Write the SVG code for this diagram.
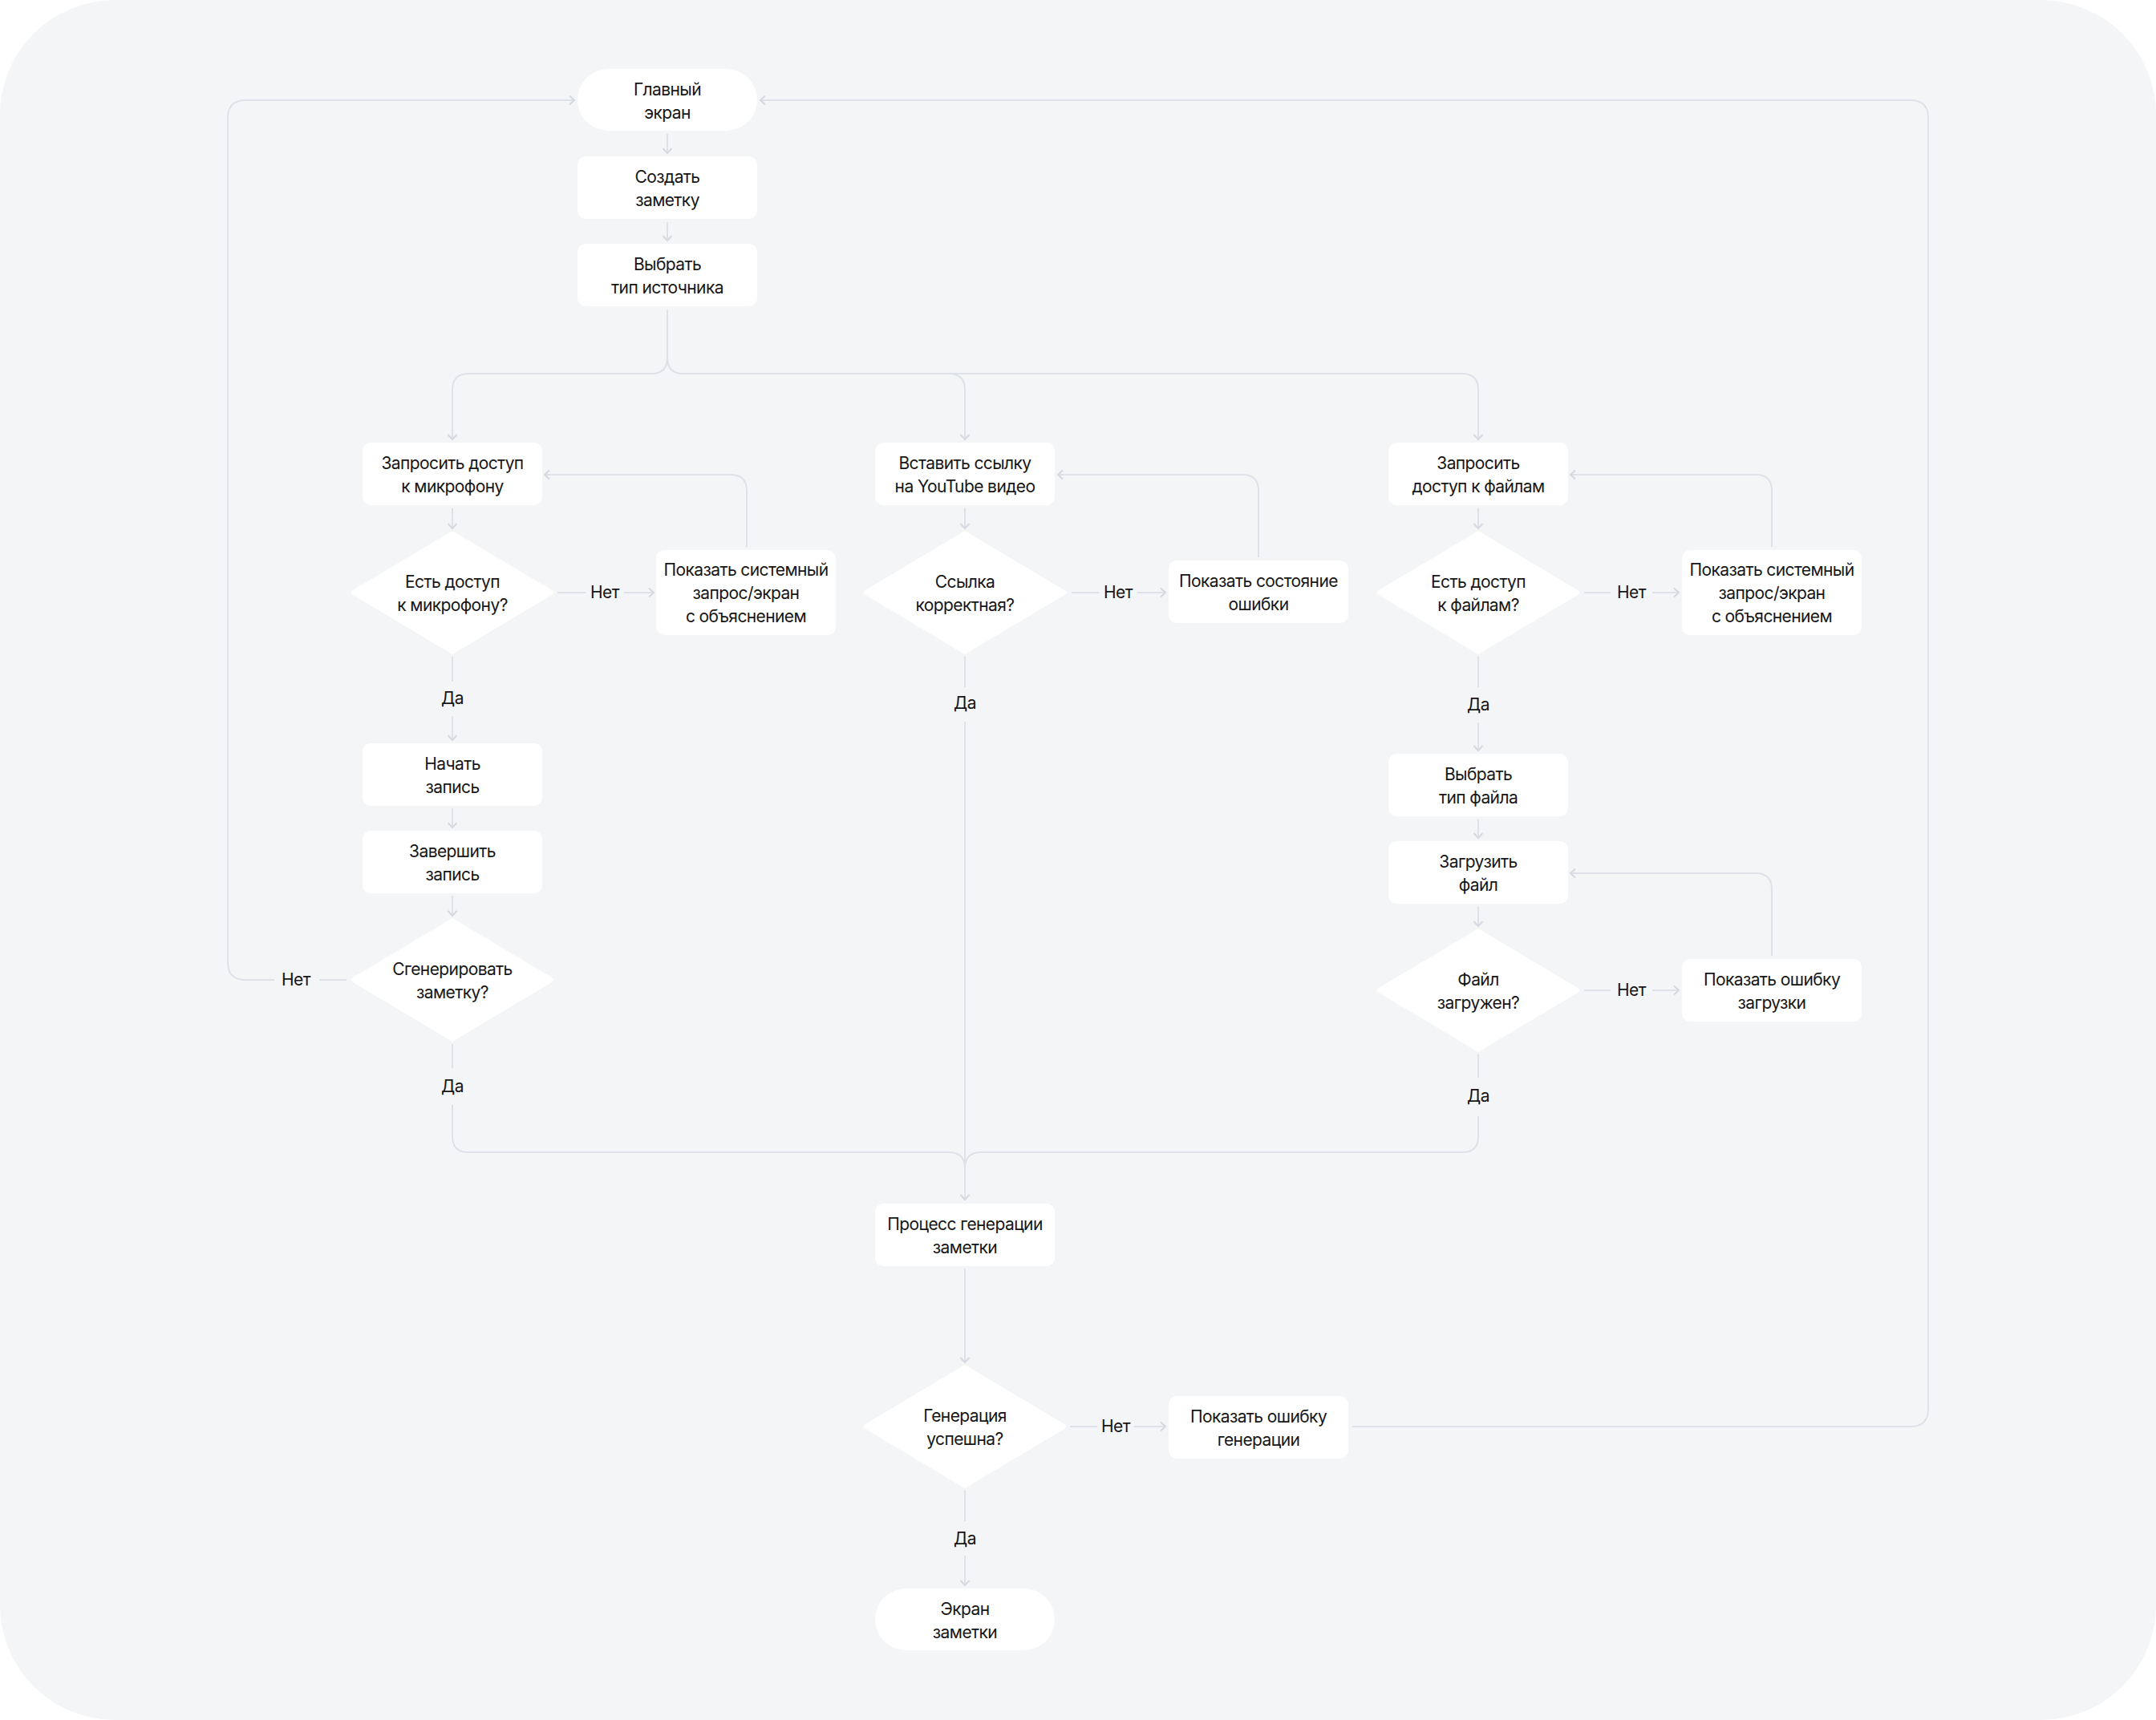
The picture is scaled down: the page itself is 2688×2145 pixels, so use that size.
<svg xmlns="http://www.w3.org/2000/svg" width="2688" height="2145" viewBox="0 0 2688 2145">
<style>
.bg{fill:#f4f5f7}
.box{fill:#ffffff}
.dia{fill:#ffffff;stroke:#ffffff;stroke-width:5;stroke-linejoin:round}
.t{font-family:Inter,"Noto Sans","Liberation Sans",sans-serif;font-size:21px;fill:#161616;text-anchor:middle;letter-spacing:-0.6px}
.c{fill:none;stroke:#dfe1e8;stroke-width:2}
</style>
<defs>
<marker id="ah" markerUnits="userSpaceOnUse" markerWidth="14" markerHeight="14" viewBox="0 0 14 14" refX="11" refY="7" orient="auto">
<path d="M5,1.5 L11,7 L5,12.5" fill="none" stroke="#d6d8e0" stroke-width="2"/>
</marker>
</defs>
<rect x="0" y="0" width="2688" height="2145" fill="#ffffff"/>
<rect class="bg" x="0" y="0" width="2688" height="2145" rx="143"/>

<g id="connectors">
<path class="c" d="M832,167 V191" marker-end="url(#ah)"/>
<path class="c" d="M832,277 V300" marker-end="url(#ah)"/>
<path class="c" d="M832,386 V446 Q832,466 812,466 H584 Q564,466 564,486 V548" marker-end="url(#ah)"/>
<path class="c" d="M832,446 Q832,466 852,466 H1823 Q1843,466 1843,486 V548" marker-end="url(#ah)"/>
<path class="c" d="M1183,466 Q1203,466 1203,486 V548" marker-end="url(#ah)"/>

<path class="c" d="M564,634 V659" marker-end="url(#ah)"/>
<path class="c" d="M695,739 H731"/>
<path class="c" d="M778,739 H815" marker-end="url(#ah)"/>
<path class="c" d="M931,682 V612 Q931,592 911,592 H679" marker-end="url(#ah)"/>
<path class="c" d="M564,819 V850"/>
<path class="c" d="M564,893 V923" marker-end="url(#ah)"/>
<path class="c" d="M564,1008 V1032" marker-end="url(#ah)"/>
<path class="c" d="M564,1117 V1142" marker-end="url(#ah)"/>
<path class="c" d="M432,1222 H398"/>
<path class="c" d="M342,1222 H306 Q284,1222 284,1200 V147 Q284,125 306,125 H716" marker-end="url(#ah)"/>
<path class="c" d="M564,1302 V1332"/>
<path class="c" d="M564,1378 V1417 Q564,1437 584,1437 H1183 Q1203,1437 1203,1457"/>

<path class="c" d="M1203,634 V659" marker-end="url(#ah)"/>
<path class="c" d="M1336,739 H1370"/>
<path class="c" d="M1418,739 H1453" marker-end="url(#ah)"/>
<path class="c" d="M1569,695 V612 Q1569,592 1549,592 H1319" marker-end="url(#ah)"/>
<path class="c" d="M1203,819 V857"/>
<path class="c" d="M1203,900 V1496" marker-end="url(#ah)"/>
<path class="c" d="M1203,1582 V1699" marker-end="url(#ah)"/>
<path class="c" d="M1334,1779 H1368"/>
<path class="c" d="M1414,1779 H1453" marker-end="url(#ah)"/>
<path class="c" d="M1686,1779 H2382 Q2404,1779 2404,1757 V147 Q2404,125 2382,125 H948" marker-end="url(#ah)"/>
<path class="c" d="M1203,1859 V1897"/>
<path class="c" d="M1203,1940 V1977" marker-end="url(#ah)"/>

<path class="c" d="M1843,634 V659" marker-end="url(#ah)"/>
<path class="c" d="M1975,739 H2008"/>
<path class="c" d="M2060,739 H2093" marker-end="url(#ah)"/>
<path class="c" d="M2209,682 V612 Q2209,592 2189,592 H1958" marker-end="url(#ah)"/>
<path class="c" d="M1843,819 V857"/>
<path class="c" d="M1843,901 V936" marker-end="url(#ah)"/>
<path class="c" d="M1843,1022 V1045" marker-end="url(#ah)"/>
<path class="c" d="M1843,1131 V1155" marker-end="url(#ah)"/>
<path class="c" d="M1975,1235 H2008"/>
<path class="c" d="M2060,1235 H2093" marker-end="url(#ah)"/>
<path class="c" d="M2209,1192 V1109 Q2209,1089 2189,1089 H1958" marker-end="url(#ah)"/>
<path class="c" d="M1843,1315 V1344"/>
<path class="c" d="M1843,1392 V1417 Q1843,1437 1823,1437 H1223 Q1203,1437 1203,1457"/>

<text class="t" x="754" y="746">Нет</text>
<text class="t" x="1394" y="746">Нет</text>
<text class="t" x="2034" y="746">Нет</text>
<text class="t" x="369" y="1229">Нет</text>
<text class="t" x="1391" y="1786">Нет</text>
<text class="t" x="2034" y="1242">Нет</text>
<text class="t" x="564" y="878">Да</text>
<text class="t" x="1203" y="884">Да</text>
<text class="t" x="1843" y="886">Да</text>
<text class="t" x="564" y="1362">Да</text>
<text class="t" x="1843" y="1374">Да</text>
<text class="t" x="1203" y="1926">Да</text>
</g>

<g id="main_screen"><rect class="box" x="720" y="86" width="224" height="77" rx="38.5"/><text class="t" x="832" y="119">Главный</text><text class="t" x="832" y="148">экран</text></g>
<g id="create_note"><rect class="box" x="720" y="195" width="224" height="78" rx="10"/><text class="t" x="832" y="228">Создать</text><text class="t" x="832" y="257">заметку</text></g>
<g id="choose_source"><rect class="box" x="720" y="304" width="224" height="78" rx="10"/><text class="t" x="832" y="337">Выбрать</text><text class="t" x="832" y="366">тип источника</text></g>

<g id="req_mic"><rect class="box" x="452" y="552" width="224" height="78" rx="10"/><text class="t" x="564" y="585">Запросить доступ</text><text class="t" x="564" y="614">к микрофону</text></g>
<g id="has_mic"><polygon class="dia" points="564,665 688,739 564,813 440,739"/><text class="t" x="564" y="733">Есть доступ</text><text class="t" x="564" y="762">к микрофону?</text></g>
<g id="show_sys_mic"><rect class="box" x="818" y="686" width="224" height="106" rx="10"/><text class="t" x="930" y="718">Показать системный</text><text class="t" x="930" y="747">запрос/экран</text><text class="t" x="930" y="776">с объяснением</text></g>
<g id="start_rec"><rect class="box" x="452" y="927" width="224" height="78" rx="10"/><text class="t" x="564" y="960">Начать</text><text class="t" x="564" y="989">запись</text></g>
<g id="stop_rec"><rect class="box" x="452" y="1036" width="224" height="78" rx="10"/><text class="t" x="564" y="1069">Завершить</text><text class="t" x="564" y="1098">запись</text></g>
<g id="gen_q"><polygon class="dia" points="564,1148 688,1222 564,1296 440,1222"/><text class="t" x="564" y="1216">Сгенерировать</text><text class="t" x="564" y="1245">заметку?</text></g>

<g id="paste_link"><rect class="box" x="1091" y="552" width="224" height="78" rx="10"/><text class="t" x="1203" y="585">Вставить ссылку</text><text class="t" x="1203" y="614">на YouTube видео</text></g>
<g id="link_ok"><polygon class="dia" points="1203,665 1327,739 1203,813 1079,739"/><text class="t" x="1203" y="733">Ссылка</text><text class="t" x="1203" y="762">корректная?</text></g>
<g id="show_err"><rect class="box" x="1457" y="699" width="224" height="78" rx="10"/><text class="t" x="1569" y="732">Показать состояние</text><text class="t" x="1569" y="761">ошибки</text></g>
<g id="process"><rect class="box" x="1091" y="1501" width="224" height="78" rx="10"/><text class="t" x="1203" y="1534">Процесс генерации</text><text class="t" x="1203" y="1563">заметки</text></g>
<g id="gen_ok"><polygon class="dia" points="1203,1705 1327,1779 1203,1853 1079,1779"/><text class="t" x="1203" y="1773">Генерация</text><text class="t" x="1203" y="1802">успешна?</text></g>
<g id="show_gen_err"><rect class="box" x="1457" y="1741" width="224" height="78" rx="10"/><text class="t" x="1569" y="1774">Показать ошибку</text><text class="t" x="1569" y="1803">генерации</text></g>
<g id="note_screen"><rect class="box" x="1091" y="1981" width="224" height="77" rx="38.5"/><text class="t" x="1203" y="2014">Экран</text><text class="t" x="1203" y="2043">заметки</text></g>

<g id="req_files"><rect class="box" x="1731" y="552" width="224" height="78" rx="10"/><text class="t" x="1843" y="585">Запросить</text><text class="t" x="1843" y="614">доступ к файлам</text></g>
<g id="has_files"><polygon class="dia" points="1843,665 1967,739 1843,813 1719,739"/><text class="t" x="1843" y="733">Есть доступ</text><text class="t" x="1843" y="762">к файлам?</text></g>
<g id="show_sys_files"><rect class="box" x="2097" y="686" width="224" height="106" rx="10"/><text class="t" x="2209" y="718">Показать системный</text><text class="t" x="2209" y="747">запрос/экран</text><text class="t" x="2209" y="776">с объяснением</text></g>
<g id="choose_file_type"><rect class="box" x="1731" y="940" width="224" height="78" rx="10"/><text class="t" x="1843" y="973">Выбрать</text><text class="t" x="1843" y="1002">тип файла</text></g>
<g id="upload"><rect class="box" x="1731" y="1049" width="224" height="78" rx="10"/><text class="t" x="1843" y="1082">Загрузить</text><text class="t" x="1843" y="1111">файл</text></g>
<g id="uploaded"><polygon class="dia" points="1843,1161 1967,1235 1843,1309 1719,1235"/><text class="t" x="1843" y="1229">Файл</text><text class="t" x="1843" y="1258">загружен?</text></g>
<g id="show_upload_err"><rect class="box" x="2097" y="1196" width="224" height="78" rx="10"/><text class="t" x="2209" y="1229">Показать ошибку</text><text class="t" x="2209" y="1258">загрузки</text></g>
</svg>
